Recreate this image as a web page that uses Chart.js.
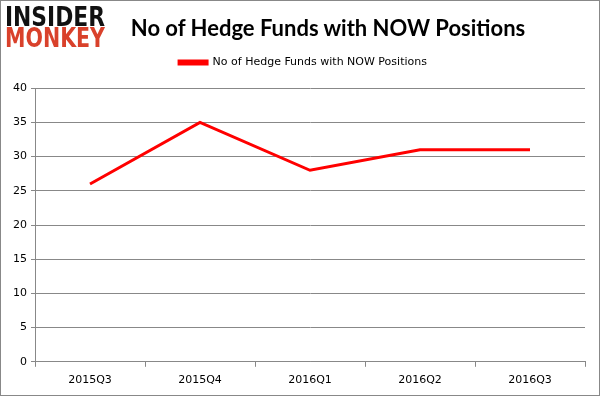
<!DOCTYPE html>
<html>
<head>
<meta charset="utf-8">
<script src="https://cdn.jsdelivr.net/npm/chart.js@4"></script>
<style>
  html, body { margin: 0; padding: 0; background: #fff; }
  #wrap { position: relative; width: 600px; height: 396px; box-sizing: border-box; border: 1px solid #888; }
  #logo { position: absolute; left: 4px; top: 6px; font-family: "DejaVu Sans", sans-serif; font-weight: bold; font-size: 26px; line-height: 21px; }
  #logo div { transform-origin: 0 50%; white-space: nowrap; }
  #logo .a { color: #111; }
  #logo .b { color: #d9412b; }
  #title { position: absolute; left: 0; width: 654px; top: 13px; text-align: center; font-family: Lato, sans-serif; font-weight: bold; font-size: 22px; color: #000; }
</style>
</head>
<body>
<div id="wrap">
  <canvas id="c" width="598" height="394"></canvas>
  <div id="logo"><div class="a">INSIDER</div><div class="b">MONKEY</div></div>
  <div id="title"></div>
</div>
<script>
const quarters = ['2015Q3', '2015Q4', '2016Q1', '2016Q2', '2016Q3'];
const fundCounts = [26, 35, 28, 31, 31];
const seriesName = 'No of Hedge Funds with NOW Positions';
const chartTitle = 'No of Hedge Funds with NOW Positions';

document.getElementById('title').textContent = chartTitle;

// squeeze the logo words to ~100px wide
document.querySelectorAll('#logo div').forEach(el => {
    let span = document.createElement('span');
    span.textContent = el.textContent;
    el.textContent = '';
    el.appendChild(span);
    let sw = span.getBoundingClientRect().width;
    el.style.transform = 'scaleX(' + (100 / sw) + ')';
});

// legend in the original sits a bit right of centre
const legendShift = {
    id: 'legendShift',
    afterLayout(chart) {
        chart.legend.left += 10;
        chart.legend.right += 10;
    }
};

const ctx = document.getElementById('c').getContext('2d');
let chart = new Chart(ctx, {
    type: 'line',
    data: {
        labels: quarters,
        datasets: [{
            label: seriesName,
            data: fundCounts,
            borderColor: '#ff0000',
            backgroundColor: '#ff0000',
            borderWidth: 3,
            pointRadius: 0,
            tension: 0
        }]
    },
    plugins: [legendShift],
    options: {
        responsive: false,
        animation: false,
        layout: { padding: { left: 0, right: 14, top: 35, bottom: 1 } },
        plugins: {
            legend: {
                labels: {
                    color: '#000',
                    boxWidth: 28,
                    boxHeight: 3,
                    padding: 21,
                    font: { family: 'DejaVu Sans', size: 11 }
                }
            },
            // empty spacer between legend and plot
            subtitle: {
                display: true,
                text: ' ',
                weight: 500,
                font: { size: 1 },
                padding: { top: 0, bottom: 9 }
            },
            tooltip: { enabled: false }
        },
        scales: {
            x: {
                offset: true,
                grid: { offset: true, drawOnChartArea: false, color: '#888', tickLength: 5 },
                border: { color: '#888' },
                ticks: { color: '#000', font: { family: 'DejaVu Sans', size: 11 }, maxRotation: 0, padding: 7 }
            },
            y: {
                min: 0, max: 40,
                afterFit: s => { s.width = 34; },
                ticks: { stepSize: 5, color: '#000', font: { family: 'DejaVu Sans', size: 11 }, padding: 4 },
                grid: { color: '#888', tickLength: 4 },
                border: { color: '#888' }
            }
        }
    }
});
</script>
</body>
</html>
